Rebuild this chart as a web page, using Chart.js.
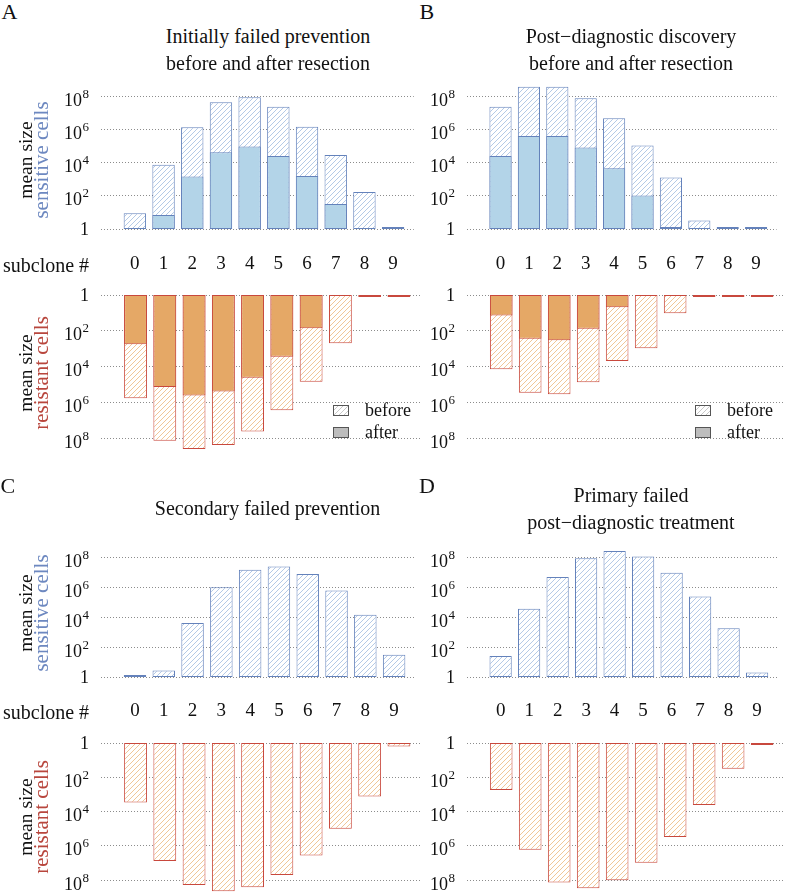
<!DOCTYPE html>
<html><head><meta charset="utf-8">
<script src="https://cdn.jsdelivr.net/npm/chart.js@4.4.1/dist/chart.umd.min.js"></script>
<style>
html,body{margin:0;padding:0;background:#fff;}
#wrap{position:relative;width:785px;height:893px;overflow:hidden;font-family:'Liberation Serif','DejaVu Serif',serif;color:#111;}
canvas{position:absolute;}
.t{position:absolute;white-space:nowrap;line-height:1;}
.c{transform:translateX(-50%);}
.yl{position:absolute;white-space:nowrap;text-align:center;line-height:14px;transform:translate(-50%,-50%) rotate(-90deg);}
.lb{position:absolute;width:14px;height:9px;border:1px solid #555;}
.hb{background:repeating-linear-gradient(135deg,#fff 0 2.5px,#c8c8c8 2.5px 3.5px);}
.fb{background:#bdbdbd;}
</style></head><body><div id="wrap">
<canvas id="aTop"></canvas><canvas id="aBot"></canvas>
<canvas id="bTop"></canvas><canvas id="bBot"></canvas>
<canvas id="cTop"></canvas><canvas id="cBot"></canvas>
<canvas id="dTop"></canvas><canvas id="dBot"></canvas>

<div class="t" style="left:1.5px;top:1px;font-size:22px;">A</div>
<div class="t" style="left:419.5px;top:1px;font-size:22px;">B</div>
<div class="t" style="left:0.5px;top:475px;font-size:22px;">C</div>
<div class="t" style="left:419px;top:475px;font-size:22px;">D</div>

<div class="t c" style="left:268px;top:25.7px;font-size:20px;">Initially failed prevention</div>
<div class="t c" style="left:268px;top:52.7px;font-size:20px;">before and after resection</div>
<div class="t c" style="left:631px;top:25.7px;font-size:20px;">Post−diagnostic discovery</div>
<div class="t c" style="left:631px;top:52.7px;font-size:20px;">before and after resection</div>
<div class="t c" style="left:267.5px;top:498.2px;font-size:20px;">Secondary failed prevention</div>
<div class="t c" style="left:631px;top:484.7px;font-size:20px;">Primary failed</div>
<div class="t c" style="left:631px;top:511.7px;font-size:20px;">post−diagnostic treatment</div>

<div class="t" style="left:3px;top:255px;font-size:20px;">subclone #</div>
<div class="t" style="left:3px;top:702.3px;font-size:20px;">subclone #</div>

<div class="yl" style="left:33.5px;top:160px;"><span style="font-size:19.5px;color:#111;">mean size</span><br><span style="font-size:21px;color:#6d88c0;">sensitive cells</span></div>
<div class="yl" style="left:33.5px;top:373px;"><span style="font-size:19.5px;color:#111;">mean size</span><br><span style="font-size:21px;color:#b8463d;">resistant cells</span></div>
<div class="yl" style="left:33.5px;top:613px;"><span style="font-size:19.5px;color:#111;">mean size</span><br><span style="font-size:21px;color:#6d88c0;">sensitive cells</span></div>
<div class="yl" style="left:33.5px;top:816.5px;"><span style="font-size:19.5px;color:#111;">mean size</span><br><span style="font-size:21px;color:#b8463d;">resistant cells</span></div>

<div class="lb hb" style="left:333px;top:405px;"></div>
<div class="lb fb" style="left:333px;top:427px;"></div>
<div class="t" style="left:365px;top:401px;font-size:18px;">before</div>
<div class="t" style="left:365px;top:423px;font-size:18px;">after</div>
<div class="lb hb" style="left:695px;top:405px;"></div>
<div class="lb fb" style="left:695px;top:427px;"></div>
<div class="t" style="left:727px;top:401px;font-size:18px;">before</div>
<div class="t" style="left:727px;top:423px;font-size:18px;">after</div>
</div>
<script>
// ---------- data ----------
const subclones = ['0','1','2','3','4','5','6','7','8','9'];
const yTickValues = [1, 1e2, 1e4, 1e6, 1e8];
const yTickBase   = ['1', '10', '10', '10', '10'];
const yTickExp    = ['', '2', '4', '6', '8'];

// Panel A: initially failed prevention, before / after resection
const aSensBefore = [9, 7500, 1.4e6, 4.5e7, 9e7, 2.4e7, 1.5e6, 3e4, 170, 1.1];
const aSensAfter  = [null, 7, 1500, 4.4e4, 9.5e4, 2.6e4, 1600, 32, null, null];
const aResBefore  = [5.9e5, 1.4e8, 4e8, 2.4e8, 4.3e7, 2.8e6, 7e4, 500, 1.1, 1.1];
const aResAfter   = [570, 1.4e5, 4.2e5, 2.5e5, 4.2e4, 2800, 72, null, null, null];

// Panel B: post-diagnostic discovery, before / after resection
const bSensBefore = [2.4e7, 3.9e8, 3.9e8, 7.8e7, 4.9e6, 1.1e5, 1300, 3.3, 1.05, 1.05];
const bSensAfter  = [2.6e4, 4.2e5, 4.2e5, 8.3e4, 4700, 106, 1.25, null, null, null];
const bResBefore  = [1.4e4, 2.9e5, 3.5e5, 7.6e4, 4900, 950, 10.5, 1.05, 1.05, 1.05];
const bResAfter   = [14, 275, 340, 76, 4.9, null, null, null, null, null];

// Panel C: secondary failed prevention
const cSens = [1.05, 2.7, 4000, 9.5e5, 1.4e7, 2.3e7, 7.4e6, 5.8e5, 1.4e4, 31];
const cRes  = [3000, 7.6e6, 1.9e8, 4.5e8, 2.6e8, 5e7, 3.7e6, 1e5, 1300, 1.6];

// Panel D: primary failed post-diagnostic treatment
const dSens = [25, 3.6e4, 4.6e6, 8.2e7, 2.5e8, 1.07e8, 9e6, 2.3e5, 1800, 2];
const dRes  = [560, 1.7e6, 1.35e8, 3e8, 1e8, 9.6e6, 3e5, 4200, 32, 1.05];

// ---------- styles ----------
const SENS_BORDER = '#6482bb', SENS_FILL = '#b3d4e8', SENS_HATCH = '#b4cae6';
const RES_BORDER = '#c8483d', RES_FILL = '#e5a866', RES_HATCH = '#f0c797';
const FONT = "'Liberation Serif','DejaVu Serif',serif";

Chart.defaults.font.family = FONT;
Chart.defaults.color = '#111';

function hatch(color) {
  const s = 5;
  const c = document.createElement('canvas'); c.width = s; c.height = s;
  const g = c.getContext('2d');
  g.fillStyle = '#fff'; g.fillRect(0, 0, s, s);
  g.strokeStyle = color; g.lineWidth = 1;
  g.beginPath();
  g.moveTo(-1, s + 1); g.lineTo(s + 1, -1);
  g.moveTo(-1, 1); g.lineTo(1, -1);
  g.moveTo(s - 1, s + 1); g.lineTo(s + 1, s - 1);
  g.stroke();
  return g.createPattern(c, 'repeat');
}

function pts(arr) {
  const out = [];
  arr.forEach((v, i) => { if (v !== null) out.push({x: Number(subclones[i]), y: v}); });
  return out;
}

function ds(arr, bg, border, order) {
  return {data: pts(arr), backgroundColor: bg, borderColor: border, borderWidth: 1,
    borderSkipped: false, grouped: false, barPercentage: 0.78, categoryPercentage: 1,
    order: order, minBarLength: 2};
}

function tickName(v) {
  const i = Math.round(v);
  return (Math.abs(v - i) < 1e-6 && i >= 0 && i < subclones.length) ? subclones[i] : '';
}

// y tick labels "10^k" drawn with a real superscript at the scale's tick positions
const supTicks = {
  id: 'supTicks',
  afterDraw(chart) {
    const s = chart.scales.y, ctx = chart.ctx;
    const xr = s.right - 12;
    ctx.save();
    ctx.fillStyle = '#111';
    ctx.textAlign = 'right';
    ctx.textBaseline = 'alphabetic';
    yTickValues.forEach((v, i) => {
      const y = s.getPixelForValue(v);
      const exp = yTickExp[i];
      if (!exp) {
        ctx.font = '18px ' + FONT;
        ctx.fillText(yTickBase[i], xr, y + 6);
      } else {
        ctx.font = '13px ' + FONT;
        const ew = ctx.measureText(exp).width;
        ctx.fillText(exp, xr, y + 1.5);
        ctx.font = '18px ' + FONT;
        ctx.fillText(yTickBase[i], xr - ew - 0.5, y + 9.5);
      }
    });
    ctx.restore();
  }
};

function makeChart(id, box, cfg) {
  const cv = document.getElementById(id);
  cv.width = box.w; cv.height = box.h;
  cv.style.left = box.x + 'px'; cv.style.top = box.y + 'px';
  return new Chart(cv, {
    type: 'bar',
    data: {datasets: cfg.datasets},
    plugins: [supTicks],
    options: {
      responsive: false, animation: false, events: [],
      layout: {padding: {top: 20, bottom: cfg.showX ? 0 : 20, left: 0, right: 2}},
      plugins: {legend: {display: false}, tooltip: {enabled: false}},
      scales: {
        x: {type: 'linear', min: -1.18, max: 9.72, offset: false, display: cfg.showX,
          grid: {display: false, drawTicks: false, tickLength: 0}, border: {display: false},
          ticks: {stepSize: 1, includeBounds: false, autoSkip: false, maxRotation: 0, minRotation: 0,
            padding: cfg.xPad || 25, font: {size: 19}, color: '#111', callback: v => tickName(v)},
          afterFit: s => { if (cfg.showX) s.height = 50; }},
        y: {type: 'logarithmic', min: 1, max: cfg.max, reverse: !!cfg.reverse,
          grid: {color: '#8c8c8c', lineWidth: 1, drawTicks: false, tickLength: 0, borderDash: [1, 2]},
          border: {display: false, dash: [1, 2]},
          ticks: {display: false},
          afterBuildTicks: s => { s.ticks = yTickValues.map(v => ({value: v})); },
          afterFit: s => { s.width = 100; }}
      }
    }
  });
}

const hS = hatch(SENS_HATCH), hR = hatch(RES_HATCH);
const L = {x: 1, w: 421}, R = {x: 367, w: 418};
const topAB = {y: 60, h: 219}, botAB = {y: 275, h: 201};
const topCD = {y: 522, h: 205}, botCD = {y: 723, h: 190};

makeChart('aTop', {...L, ...topAB}, {showX: true, max: 1e9, xPad: 24,
  datasets: [ds(aSensAfter, SENS_FILL, SENS_BORDER, 1), ds(aSensBefore, hS, SENS_BORDER, 2)]});
makeChart('aBot', {...L, ...botAB}, {showX: false, max: 1e9, reverse: true,
  datasets: [ds(aResAfter, RES_FILL, RES_BORDER, 1), ds(aResBefore, hR, RES_BORDER, 2)]});
makeChart('bTop', {...R, ...topAB}, {showX: true, max: 1e9, xPad: 24,
  datasets: [ds(bSensAfter, SENS_FILL, SENS_BORDER, 1), ds(bSensBefore, hS, SENS_BORDER, 2)]});
makeChart('bBot', {...R, ...botAB}, {showX: false, max: 1e9, reverse: true,
  datasets: [ds(bResAfter, RES_FILL, RES_BORDER, 1), ds(bResBefore, hR, RES_BORDER, 2)]});
makeChart('cTop', {...L, ...topCD}, {showX: true, max: 1e9, xPad: 23,
  datasets: [ds(cSens, hS, SENS_BORDER, 2)]});
makeChart('cBot', {...L, ...botCD}, {showX: false, max: Math.pow(10, 8.75), reverse: true,
  datasets: [ds(cRes, hR, RES_BORDER, 2)]});
makeChart('dTop', {...R, ...topCD}, {showX: true, max: 1e9, xPad: 23,
  datasets: [ds(dSens, hS, SENS_BORDER, 2)]});
makeChart('dBot', {...R, ...botCD}, {showX: false, max: Math.pow(10, 8.75), reverse: true,
  datasets: [ds(dRes, hR, RES_BORDER, 2)]});
</script>
</body></html>
